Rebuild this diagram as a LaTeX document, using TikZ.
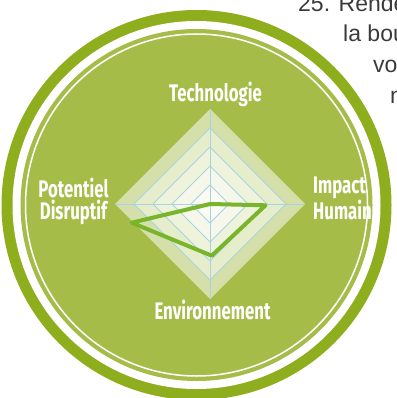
\documentclass[tikz,border=0pt]{standalone}
\usepackage{fontspec}
\usetikzlibrary{calc}
\setmainfont{Liberation Sans}
\newfontfamily\labfont[FakeStretch=0.7]{Fira Sans}
\definecolor{ringdark}{HTML}{8FAE1E}
\definecolor{disk}{HTML}{A5BD48}
\definecolor{lvlA}{HTML}{D5DFAA}
\definecolor{lvlB}{HTML}{E6EDCB}
\definecolor{lvlC}{HTML}{EEF3DC}
\definecolor{lvlD}{HTML}{F4F7EA}
\definecolor{lvlE}{HTML}{FAFBF4}
\definecolor{gridblue}{HTML}{A9D3DF}
\definecolor{dataline}{HTML}{78B52A}
\definecolor{bodytext}{HTML}{3A3A3A}
\tikzset{
  axislabel/.style={text=white, font=\labfont\bfseries\fontsize{24}{22}\selectfont, inner sep=0pt},
  bodyline/.style={text=bodytext, font=\fontsize{23}{31}\selectfont, inner sep=0pt, anchor=base west},
  gridline/.style={draw=gridblue, line width=0.8pt},
  datapoly/.style={draw=dataline, line width=4pt, line join=round, line cap=round},
}
\begin{document}
\begin{tikzpicture}[x=1pt, y=-1pt]
\useasboundingbox (0,0) rectangle (396,398);
\clip (0,0) rectangle (396,398);
% text behind
\node[bodyline] (t1) at (298,12) {25. Rende};
\node[bodyline] (t2) at (343,42) {la bou};
\node[bodyline] (t3) at (373,73) {vo};
\node[bodyline] (t4) at (390,104) {n};
% circles
\coordinate (cc) at (196.5,205);
\fill[ringdark] (cc) circle[radius=195];
\fill[white] (cc) circle[radius=184];
\fill[disk] (cc) circle[radius=176];
\draw[white, line width=1.5pt] (cc) circle[radius=171];
% radar
\coordinate (o) at (210,204);
\foreach \r/\c in {95/lvlA,76/lvlB,57/lvlC,38/lvlD,19/lvlE}{
  \fill[\c] ($(o)+(0,-\r)$) -- ($(o)+(\r,0)$) -- ($(o)+(0,\r)$) -- ($(o)+(-\r,0)$) -- cycle;
}
\foreach \r in {19,38,57,76}{
  \draw[gridline] ($(o)+(0,-\r)$) -- ($(o)+(\r,0)$) -- ($(o)+(0,\r)$) -- ($(o)+(-\r,0)$) -- cycle;
}
\coordinate (vt) at (210,109);
\coordinate (vb) at (210,299);
\coordinate (vl) at (115,204);
\coordinate (vr) at (305,204);
\draw[gridline] (vt) -- (vb);
\draw[gridline] (vl) -- (vr);
% data
\coordinate (dr) at (265.5,205.3);
\coordinate (db) at (211.7,255.7);
\coordinate (dl) at (131.7,222.7);
\draw[datapoly] (o) -- (dr) -- (db) -- (dl) -- cycle;
% labels
\node[axislabel, anchor=base] (lt) at (215.5,102) {Technologie};
\node[axislabel, anchor=base] (le) at (212.5,319) {Environnement};
\node[axislabel, align=center, anchor=base] (lp) at (73.5,219.5) {Potentiel\\Disruptif};
\node[axislabel, align=left, anchor=base west] (li) at (313,219.5) {Impact\\Humain};
\end{tikzpicture}
\end{document}
